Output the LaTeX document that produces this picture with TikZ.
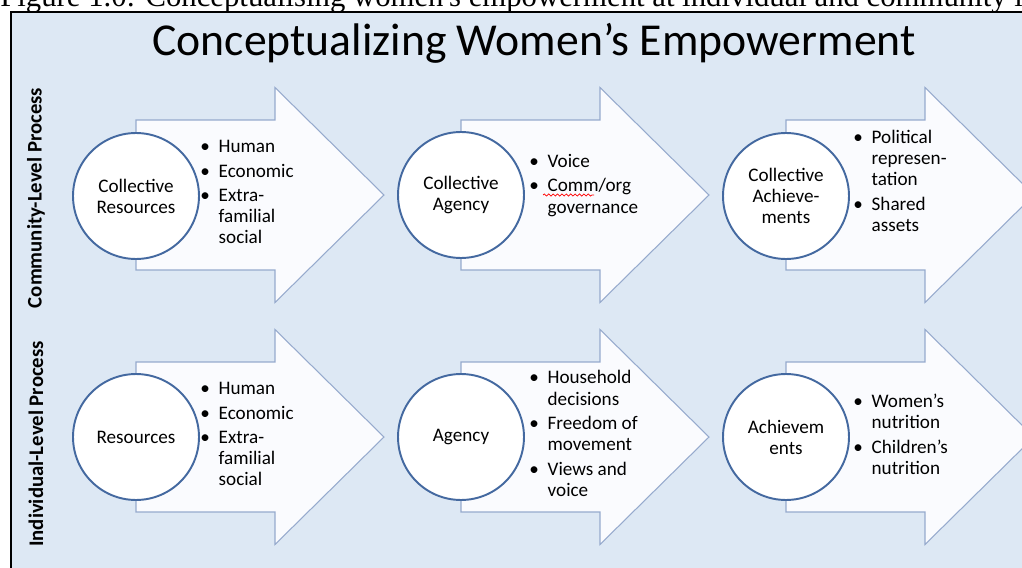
\documentclass[tikz,border=0pt]{standalone}
\usepackage{fontspec}
\setmainfont{Carlito}
\newfontfamily\capfont{Liberation Serif}
\usetikzlibrary{decorations.pathmorphing}

\definecolor{bgblue}{RGB}{221,232,244}
\definecolor{arrowline}{RGB}{150,170,205}
\definecolor{arrowfill}{RGB}{250,251,254}
\definecolor{circline}{RGB}{68,105,160}

% bullet list with hanging lines
\newcommand{\blist}[1]{\begin{tabular}{@{}l@{\hspace{5pt}}l@{}}#1\end{tabular}}

\tikzset{
  procarrow/.style={draw=arrowline,fill=arrowfill,line width=0.6pt,line join=miter},
  stage/.style={circle,draw=circline,fill=white,line width=1.1pt,minimum size=2.52cm,
    inner sep=0pt,align=center,font=\fontsize{10.9}{12}\selectfont},
  items/.style={anchor=west,inner sep=0pt,font=\fontsize{10.9}{12}\selectfont},
  side/.style={rotate=90,font=\bfseries\fontsize{11.8}{13}\selectfont}
}

\begin{document}
\begin{tikzpicture}[x=0.02cm,y=-0.02cm]
\useasboundingbox (0,0) rectangle (1022,568);
\clip (0,0) rectangle (1022,568);
\fill[white] (0,0) rectangle (1022,568);

% caption above the figure
\node[anchor=base west,inner sep=0pt,font=\capfont\fontsize{17.5}{19}\selectfont] (cap) at (0,7)
  {Figure 1.0: Conceptualising women's empowerment at individual and community level};

\draw[line width=1.2pt,fill=bgblue] (11,12) rectangle (1060,600);
\node[anchor=base,inner sep=0pt,font=\fontsize{26}{30}\selectfont] (title) at (534,55)
  {Conceptualizing Women’s Empowerment};

% side labels
\node[side] (comm) at (36,198) {Community-Level Process};
\node[side] (indiv) at (36,444) {Individual-Level Process};

% arrows, tail at the circle centre
\foreach \cx/\cy in {136/195,461/195,786/195,136/437,461/437,786/437}
  \draw[procarrow] (\cx,\cy-75) -- ++(139,0) -- ++(0,-32.5) -- ++(109,107.5)
    -- ++(-109,107.5) -- ++(0,-32.5) -- ++(-139,0) -- cycle;

% community level
\node[stage] (cres) at (136,196) {Collective\\Resources};
\node[stage] (cag) at (461,195) {Collective\\Agency};
\node[stage] (cach) at (786,196) {Collective\\Achieve-\\ments};

\node[items] (cresl) at (200,194) {\blist{\textbullet & Human\\[2pt] \textbullet & Economic\\[2pt]
  \textbullet & Extra-\\ & familial\\ & social}};
\node[items] (cagl) at (529,186) {\blist{\textbullet & Voice\\[2pt] \textbullet & Comm/org\\ & governance}};
\node[items] (cachl) at (853,183) {\blist{\textbullet & Political\\ & represen-\\ & tation\\[2pt]
  \textbullet & Shared\\ & assets}};
\draw[red,line width=0.4pt,decorate,decoration={snake,amplitude=0.6pt,segment length=2.5pt}]
  (543,195) -- (594,195);

% individual level
\node[stage] (res) at (136,437) {Resources};
\node[stage] (ag) at (461,437) {Agency};
\node[stage] (ach) at (786,437) {Achievem\\ents};

\node[items] (resl) at (200,436) {\blist{\textbullet & Human\\[2pt] \textbullet & Economic\\[2pt]
  \textbullet & Extra-\\ & familial\\ & social}};
\node[items] (agl) at (529,436) {\blist{\textbullet & Household\\ & decisions\\[2pt]
  \textbullet & Freedom of\\ & movement\\[2pt] \textbullet & Views and\\ & voice}};
\node[items] (achl) at (853,437) {\blist{\textbullet & Women’s\\ & nutrition\\[2pt]
  \textbullet & Children’s\\ & nutrition}};
\end{tikzpicture}
\end{document}
